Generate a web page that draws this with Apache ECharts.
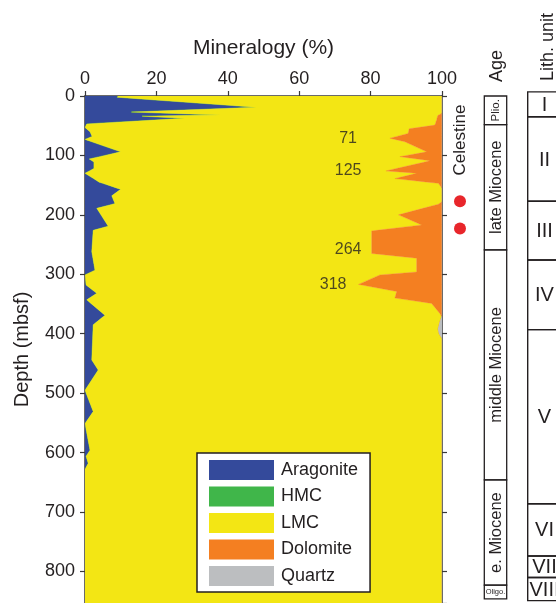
<!DOCTYPE html>
<html><head><meta charset="utf-8">
<script src="https://cdn.jsdelivr.net/npm/echarts@6/dist/echarts.min.js"></script>
<style>html,body{margin:0;padding:0;background:#fff}#c{width:556px;height:603px}</style>
</head><body><div id="c"></div>
<script>
// ---------- DATA ----------
const aragDepth = [0, 2, 19, 27, 32, 34, 37.5, 47, 53, 60, 68, 73, 94, 106, 111, 122, 130, 145, 157, 168, 181, 189, 219, 226, 262, 293, 301, 318, 332, 343, 369, 385, 444, 461, 495, 531, 551, 596, 606, 618, 628, 853];
const aragPct   = [9.3, 9, 48, 13, 38, 16, 28, 0.5, 0, 1.4, 2, 0, 10, 1.2, 2.5, 2.5, 0, 4, 10, 7.5, 8.4, 3.3, 6.5, 2.3, 1.9, 2.8, 0, 0.3, 3.3, 0.5, 5.6, 2.3, 1.9, 3.7, 0, 2.3, 0, 1.4, 0.3, 0.9, 0, 0];
const hmcDepth  = [0, 853];
const hmcPct    = [0, 0];
const dolDepth  = [0, 29, 33, 40, 49, 55, 63, 71, 77, 94, 102, 109, 126, 130, 139, 147, 155, 178, 182, 200, 217, 227, 265, 273, 296, 301, 317, 329, 340, 349, 366, 372, 853];
const dolPct    = [0, 0, 1.2, 1.5, 2, 9.2, 9.5, 14.6, 10.4, 4.3, 11.8, 3.4, 15.7, 7.1, 13.2, 1, 0, 0, 1, 12.2, 5.7, 19.7, 19.7, 7.1, 7.1, 17.4, 23.4, 12.7, 13.2, 2.9, 0.6, 0, 0];
const qtzDepth  = [370, 380, 392, 400, 408];
const qtzPct    = [0, 0.6, 1.1, 0.8, 0];

const depthLabelText  = ['71', '125', '264', '318'];
const depthLabelDepth = [71, 125, 264, 318];

const celestineDepth = [177, 223];

const ageNames  = ['Plio.', 'late Miocene', 'middle Miocene', 'e. Miocene', 'Oligo.'];
const ageTop    = [0, 48, 259, 646, 823];
const ageBottom = [48, 259, 646, 823, 846];

const lithNames  = ['I', 'II', 'III', 'IV', 'V', 'VI', 'VII', 'VIII'];
const lithTop    = [-7, 35, 177, 276, 393, 686, 774, 810];
const lithBottom = [35, 177, 276, 393, 686, 774, 810, 849];

const mineralNames = ['Aragonite', 'HMC', 'LMC', 'Dolomite', 'Quartz'];
const xTicks = {min: 0, max: 100, interval: 20};
const yTicks = {min: 0, max: 853, interval: 100};

// ---------- STYLE / LAYOUT ----------
const FONT = 'Liberation Sans, Arial, Helvetica, sans-serif';
const TXT = '#231f20';
const AX = '#3a3a3a';
const COLORS = {Aragonite: '#344a9b', HMC: '#40b64a', LMC: '#f3e614', Dolomite: '#f47f21', Quartz: '#bcbec0'};
const labelXPct = [73.7, 73.7, 73.7, 69.5];
const labelDy = [0, 0, -6, 0];

function interp(ds, vs, d) {
  if (d < ds[0] || d > ds[ds.length - 1]) return 0;
  for (let i = 0; i < ds.length - 1; i++) {
    if (d >= ds[i] && d <= ds[i + 1]) {
      const t = ds[i + 1] === ds[i] ? 0 : (d - ds[i]) / (ds[i + 1] - ds[i]);
      return vs[i] + t * (vs[i + 1] - vs[i]);
    }
  }
  return vs[vs.length - 1];
}
const allDepth = Array.from(new Set([].concat(aragDepth, hmcDepth, dolDepth, qtzDepth))).sort((a, b) => a - b);
const A = d => interp(aragDepth, aragPct, d);
const H = d => interp(hmcDepth, hmcPct, d);
const D = d => interp(dolDepth, dolPct, d);
const Q = d => interp(qtzDepth, qtzPct, d);
const bounds = [
  d => 0,
  d => A(d),
  d => A(d) + H(d),
  d => 100 - D(d) - Q(d),
  d => 100 - Q(d),
  d => 100
];

function layerSeries(k) {
  const name = mineralNames[k];
  const color = COLORS[name];
  return {
    type: 'custom', name, xAxisIndex: 0, yAxisIndex: 0, z: 2, silent: true, clip: true,
    itemStyle: {color},
    data: [[0, 0]],
    renderItem: function (params, api) {
      const left = allDepth.map(d => api.coord([bounds[k](d), d]));
      const right = allDepth.slice().reverse().map(d => api.coord([bounds[k + 1](d), d]));
      return {type: 'polygon', shape: {points: left.concat(right)}, style: {fill: color, stroke: color, lineWidth: 0.3}};
    }
  };
}

const chart = echarts.init(document.getElementById('c'), null, {renderer: 'canvas'});

const ageSeries = {
  type: 'custom', xAxisIndex: 2, yAxisIndex: 3, silent: true, clip: false, z: 5,
  data: ageNames.map((n, i) => [i, ageTop[i], ageBottom[i]]),
  encode: {x: 0, y: [1, 2]},
  renderItem: function (params, api) {
    const i = params.dataIndex;
    const p0 = api.coord([8.3, ageTop[i]]);
    const p1 = api.coord([30.7, ageBottom[i]]);
    const cx = (p0[0] + p1[0]) / 2, cy = (p0[1] + p1[1]) / 2;
    const small = ageNames[i] === 'Oligo.';
    const fs = small ? 7.5 : (ageNames[i] === 'Plio.' ? 11.5 : 16.5);
    return {type: 'group', children: [
      {type: 'rect', shape: {x: p0[0], y: p0[1], width: p1[0] - p0[0], height: p1[1] - p0[1]},
       style: {fill: 'transparent', stroke: TXT, lineWidth: 1.3}},
      {type: 'text', x: cx + (small ? 0 : 0.5), y: cy, rotation: small ? 0 : Math.PI / 2,
       style: {text: ageNames[i], font: fs + 'px ' + FONT, fill: TXT,
               textAlign: 'center', textVerticalAlign: 'middle', align: 'center', verticalAlign: 'middle'}}
    ]};
  }
};

const lithSeries = {
  type: 'custom', xAxisIndex: 2, yAxisIndex: 3, silent: true, clip: false, z: 5,
  data: lithNames.map((n, i) => [i, lithTop[i], lithBottom[i]]),
  encode: {x: 0, y: [1, 2]},
  renderItem: function (params, api) {
    const i = params.dataIndex;
    const p0 = api.coord([51.7, lithTop[i]]);
    const p1 = api.coord([100, lithBottom[i]]);
    const cy = (p0[1] + p1[1]) / 2;
    const cx = api.coord([68.5, 0])[0];
    return {type: 'group', children: [
      {type: 'rect', shape: {x: p0[0], y: p0[1], width: p1[0] - p0[0], height: p1[1] - p0[1]},
       style: {fill: 'transparent', stroke: TXT, lineWidth: 1.4}},
      {type: 'text', x: cx, y: cy + 1,
       style: {text: lithNames[i], font: '20px ' + FONT, fill: TXT,
               textAlign: 'center', textVerticalAlign: 'middle', align: 'center', verticalAlign: 'middle'}}
    ]};
  }
};

const hdr = (text, x, y, size) => ({
  type: 'text', x, y, rotation: Math.PI / 2, silent: true,
  style: {text, font: size + 'px ' + FONT, fill: TXT,
          textAlign: 'center', textVerticalAlign: 'middle', align: 'center', verticalAlign: 'middle'}
});

const option = {
  animation: false,
  backgroundColor: '#ffffff',
  textStyle: {fontFamily: FONT, color: TXT},
  grid: [
    {left: 85, top: 96, width: 357, height: 507, outerBoundsMode: 'none', containLabel: false},
    {left: 447, top: 96, width: 26, height: 507, outerBoundsMode: 'none', containLabel: false},
    {left: 476, top: 96, width: 80, height: 507, outerBoundsMode: 'none', containLabel: false}
  ],
  xAxis: [
    {gridIndex: 0, type: 'value', position: 'top', min: xTicks.min, max: xTicks.max, interval: xTicks.interval,
     name: 'Mineralogy (%)', nameLocation: 'middle', nameGap: 37,
     nameTextStyle: {fontSize: 21, color: TXT, fontFamily: FONT},
     axisLine: {show: true, lineStyle: {color: AX, width: 1.5}},
     axisTick: {show: true, inside: false, length: 5, lineStyle: {color: AX, width: 1.2}},
     axisLabel: {show: true, fontSize: 18, color: TXT, margin: 8, fontFamily: FONT},
     splitLine: {show: false}},
    {gridIndex: 1, type: 'value', min: -1, max: 1, show: false},
    {gridIndex: 2, type: 'value', min: 0, max: 80, show: false}
  ],
  yAxis: [
    {gridIndex: 0, type: 'value', inverse: true, position: 'left', min: yTicks.min, max: yTicks.max, interval: yTicks.interval,
     name: 'Depth (mbsf)', nameLocation: 'middle', nameGap: 53,
     nameTextStyle: {fontSize: 20, color: TXT, fontFamily: FONT},
     axisLine: {show: true, lineStyle: {color: AX, width: 1.5}},
     axisTick: {show: true, inside: false, length: 5, lineStyle: {color: AX, width: 1.2}},
     axisLabel: {show: true, fontSize: 18, color: TXT, margin: 10, fontFamily: FONT, showMaxLabel: false},
     splitLine: {show: false}},
    {gridIndex: 0, type: 'value', inverse: true, position: 'right', min: yTicks.min, max: yTicks.max, interval: yTicks.interval,
     axisLine: {show: true, lineStyle: {color: AX, width: 1.5}},
     axisTick: {show: true, inside: false, length: 5, lineStyle: {color: AX, width: 1.2}},
     axisLabel: {show: false}, splitLine: {show: false}},
    {gridIndex: 1, type: 'value', inverse: true, min: yTicks.min, max: yTicks.max, show: false},
    {gridIndex: 2, type: 'value', inverse: true, min: yTicks.min, max: yTicks.max, show: false}
  ],
  legend: {
    show: true, orient: 'vertical', left: 197, top: 453,
    padding: [7, 12, 6, 12], itemGap: 6.5, itemWidth: 65, itemHeight: 20, icon: 'rect',
    backgroundColor: '#ffffff', borderColor: '#231f20', borderWidth: 1.5,
    selectedMode: false,
    textStyle: {fontSize: 18, color: TXT, fontFamily: FONT, padding: [0, 0, 0, 2]},
    data: mineralNames.map(n => ({name: n, itemStyle: {color: COLORS[n], borderWidth: 0, opacity: 1}}))
  },
  graphic: [
    hdr('Celestine', 460.5, 140, 17),
    hdr('Age', 497, 66, 18),
    hdr('Lith. unit', 548.5, 47, 18)
  ],
  series: [
    layerSeries(0), layerSeries(1), layerSeries(2), layerSeries(3), layerSeries(4),
    {type: 'scatter', xAxisIndex: 0, yAxisIndex: 0, z: 4, silent: true, symbolSize: 1,
     itemStyle: {color: 'rgba(0,0,0,0)'},
     data: depthLabelDepth.map((d, i) => ({value: [labelXPct[i], d + labelDy[i]],
        label: {show: true, position: 'inside', formatter: depthLabelText[i], fontSize: 16, color: TXT, fontFamily: FONT}}))},
    {type: 'scatter', xAxisIndex: 1, yAxisIndex: 2, z: 4, silent: true, symbol: 'circle', symbolSize: 12,
     itemStyle: {color: '#e8262b', opacity: 1},
     data: celestineDepth.map(d => [0, d])},
    ageSeries, lithSeries
  ]
};
chart.setOption(option);
</script></body></html>
